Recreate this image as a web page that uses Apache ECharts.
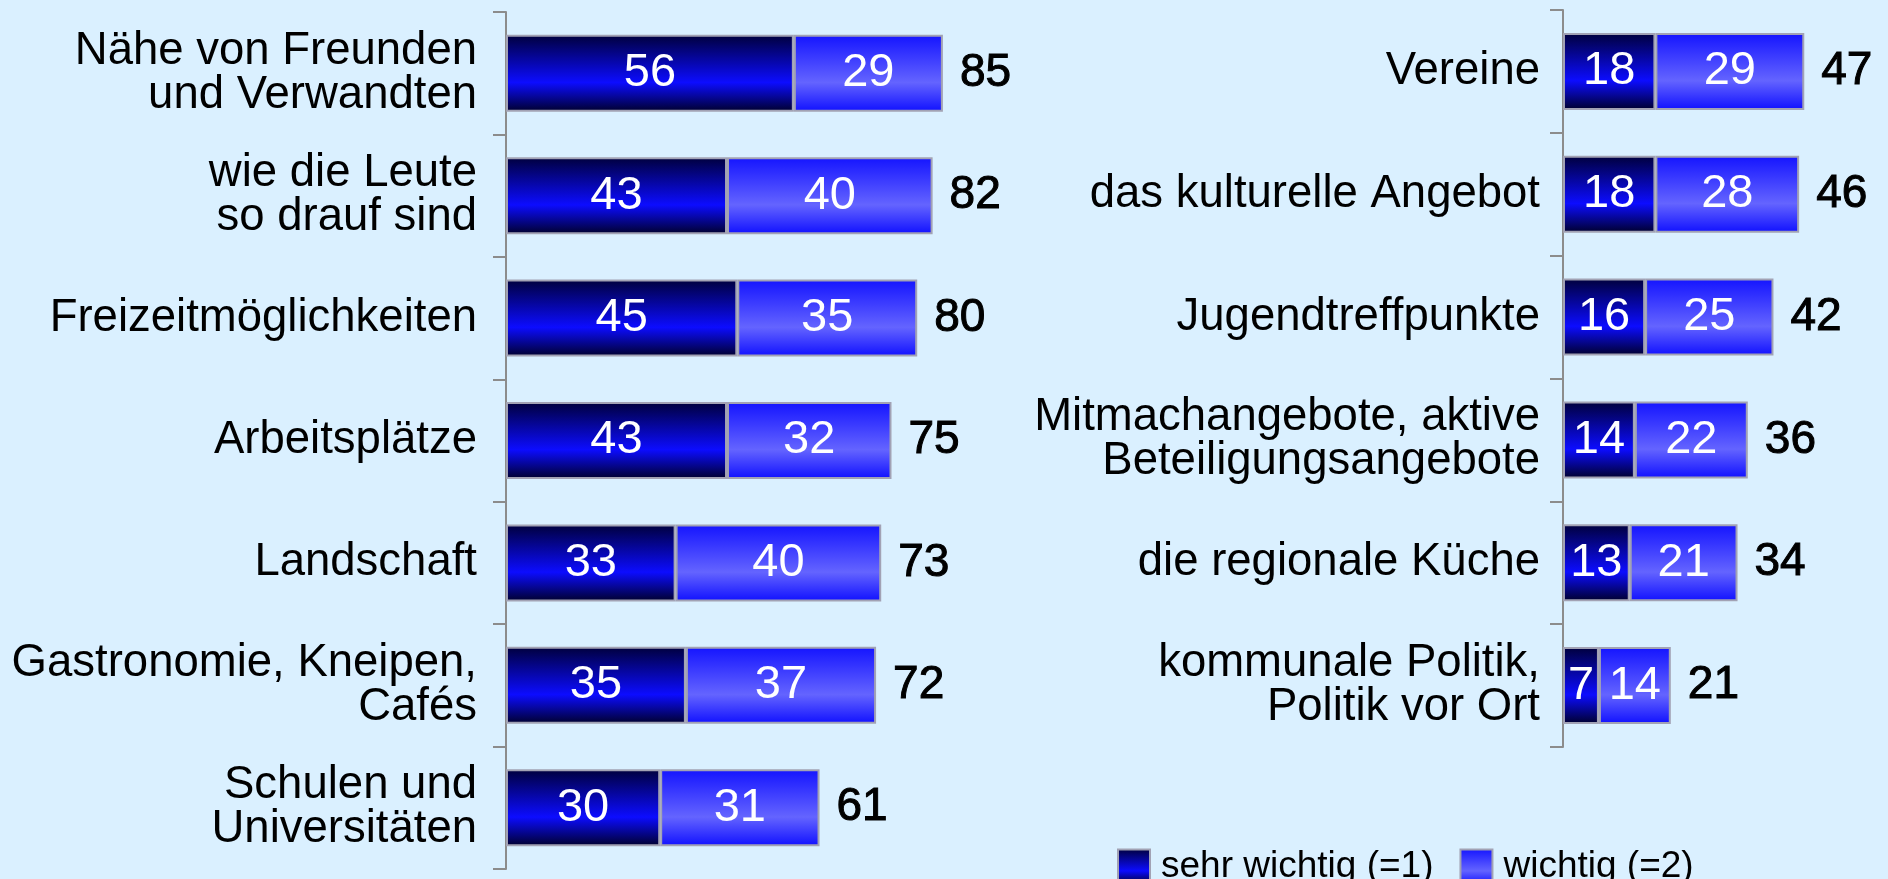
<!DOCTYPE html>
<html>
<head>
<meta charset="utf-8">
<script src="https://cdn.jsdelivr.net/npm/echarts@6/dist/echarts.min.js"></script>
<style>
  html, body { margin: 0; padding: 0; background: #daf0ff; }
  #chart { width: 1888px; height: 879px; }
</style>
</head>
<body>
<div id="chart"></div>
<script>
// linke Seite
const leftCats = ["Nähe von Freunden\nund Verwandten", "wie die Leute\nso drauf sind", "Freizeitmöglichkeiten",
  "Arbeitsplätze", "Landschaft", "Gastronomie, Kneipen,\nCafés", "Schulen und\nUniversitäten"];
const leftSehr = [56, 43, 45, 43, 33, 35, 30];
const leftWichtig = [29, 40, 35, 32, 40, 37, 31];
const leftTotal = [85, 82, 80, 75, 73, 72, 61];

// rechte Seite
const rightCats = ["Vereine", "das kulturelle Angebot", "Jugendtreffpunkte",
  "Mitmachangebote, aktive\nBeteiligungsangebote", "die regionale Küche", "kommunale Politik,\nPolitik vor Ort"];
const rightSehr = [18, 18, 16, 14, 13, 7];
const rightWichtig = [29, 28, 25, 22, 21, 14];
const rightTotal = [47, 46, 42, 36, 34, 21];

const seriesNames = ["sehr wichtig (=1)", "wichtig (=2)"];

const font = "'Liberation Sans', Arial, sans-serif";
const darkFill = new echarts.graphic.LinearGradient(0, 0, 0, 1, [
  { offset: 0, color: "#00003c" },
  { offset: 0.62, color: "#0c0cff" },
  { offset: 1, color: "#00002c" },
]);
const lightFill = new echarts.graphic.LinearGradient(0, 0, 0, 1, [
  { offset: 0, color: "#1414ff" },
  { offset: 0.62, color: "#6464ff" },
  { offset: 1, color: "#1010ff" },
]);
const border = { borderColor: "#a2a2b4", borderWidth: 2 };

function innerLabel() {
  return { show: true, position: "inside", color: "#fff", fontSize: 47, fontFamily: font };
}

function partSeries(name, data, idx, fill) {
  return {
    name: name,
    type: "bar",
    stack: "s" + idx,
    xAxisIndex: idx,
    yAxisIndex: idx,
    barWidth: 77,
    data: data,
    itemStyle: Object.assign({ color: fill }, border),
    label: innerLabel(),
    emphasis: { disabled: true },
  };
}

function totalSeries(totals, idx) {
  return {
    name: "gesamt" + idx,
    type: "bar",
    stack: "s" + idx,
    xAxisIndex: idx,
    yAxisIndex: idx,
    barWidth: 77,
    data: totals.map(() => 0),
    itemStyle: { color: "transparent", borderWidth: 0 },
    label: {
      show: true,
      position: "right",
      distance: 17,
      color: "#000",
      fontSize: 46,
      fontFamily: font,
      textBorderColor: "#000",
      textBorderWidth: 1,
      formatter: (p) => totals[p.dataIndex],
    },
    emphasis: { disabled: true },
  };
}

function catAxis(cats, idx, margin) {
  return {
    type: "category",
    gridIndex: idx,
    inverse: true,
    data: cats,
    axisLine: { lineStyle: { color: "#8c8c8c", width: 2 } },
    axisTick: { show: true, length: 13, lineStyle: { color: "#8c8c8c", width: 2 } },
    axisLabel: { color: "#000", fontSize: 45.5, lineHeight: 44, fontFamily: font, margin: margin, align: "right" },
  };
}

const myChart = echarts.init(document.getElementById("chart"));
myChart.setOption({
  backgroundColor: "#daf0ff",
  animation: false,
  grid: [
    { left: 506, top: 12, width: 514, height: 857 },
    { left: 1563, top: 10, width: 308, height: 737 },
  ],
  xAxis: [
    { type: "value", gridIndex: 0, min: 0, max: 100, show: false },
    { type: "value", gridIndex: 1, min: 0, max: 60, show: false },
  ],
  yAxis: [catAxis(leftCats, 0, 29), catAxis(rightCats, 1, 23)],
  legend: {
    data: seriesNames,
    left: 1112,
    top: 843,
    icon: "rect",
    itemWidth: 32,
    itemHeight: 34,
    itemGap: 26,
    textStyle: { color: "#000", fontSize: 37, fontFamily: font, padding: [0, 0, 0, 6] },
  },
  series: [
    partSeries(seriesNames[0], leftSehr, 0, darkFill),
    partSeries(seriesNames[1], leftWichtig, 0, lightFill),
    totalSeries(leftTotal, 0),
    partSeries(seriesNames[0], rightSehr, 1, darkFill),
    partSeries(seriesNames[1], rightWichtig, 1, lightFill),
    totalSeries(rightTotal, 1),
  ],
});
</script>
</body>
</html>
